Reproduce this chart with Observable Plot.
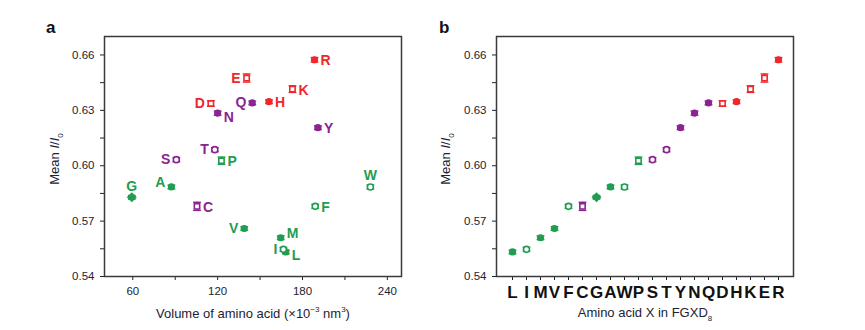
<!DOCTYPE html>
<html>
<head>
<meta charset="utf-8">
<script src="https://cdn.jsdelivr.net/npm/d3@7"></script>
<script src="https://cdn.jsdelivr.net/npm/@observablehq/plot@0.6"></script>
<style>
  html, body { margin: 0; padding: 0; background: #fff; }
  #wrap { position: relative; width: 865px; height: 330px; font-family: "Liberation Sans", Arial, sans-serif; color: #1b2333; }
  .panel { position: absolute; top: 0; }
  .plab { position: absolute; font-weight: bold; font-size: 17px; color: #111; }
  .ylab { position: absolute; font-size: 13px; white-space: nowrap; transform: translate(-50%, -50%) rotate(-90deg); }
  .xlab { position: absolute; font-size: 13px; white-space: nowrap; transform: translate(-50%, -50%); }
  sup, sub { font-size: 8px; }
</style>
</head>
<body>
<div id="wrap">
  <div id="pa" class="panel" style="left:0"></div>
  <div id="pb" class="panel" style="left:430px"></div>
  <div class="plab" style="left:46px; top:18px">a</div>
  <div class="plab" style="left:439px; top:18px">b</div>
  <div class="ylab" style="left:56px; top:159px">Mean <i>I</i>/<i>I</i><sub>0</sub></div>
  <div class="ylab" style="left:447px; top:159px">Mean <i>I</i>/<i>I</i><sub>0</sub></div>
  <div class="xlab" style="left:253px; top:313px">Volume of amino acid (×10<sup>−3</sup> nm<sup>3</sup>)</div>
  <div class="xlab" style="left:645px; top:314px">Amino acid X in FGXD<sub>8</sub></div>
</div>
<script>
// ---- data ----
const letters = ["L","I","M","V","F","C","G","A","W","P","S","T","Y","N","Q","D","H","K","E","R"];
const meanI   = [0.5533,0.5547,0.5610,0.5660,0.5780,0.5780,0.5829,0.5885,0.5885,0.6027,0.6033,0.6087,0.6206,0.6285,0.6340,0.6337,0.6347,0.6415,0.6475,0.6574];
const errI    = [0.0010,0.0011,0.0010,0.0010,0.0011,0.0022,0.0010,0.0010,0.0011,0.0020,0.0011,0.0011,0.0010,0.0011,0.0010,0.0015,0.0010,0.0018,0.0022,0.0012];
const volume  = [168.2,166.5,164.6,138.8,189.0,105.4,59.3,87.3,228.0,122.7,90.8,118.0,190.9,120.0,144.5,115.2,156.3,172.9,140.5,188.5];
const group   = ["nonpolar","nonpolar","nonpolar","nonpolar","nonpolar","polar","nonpolar","nonpolar","nonpolar","nonpolar","polar","polar","polar","polar","polar","charged","charged","charged","charged","charged"];
const marker  = ["filled","open","filled","filled","open","box","diamond","filled","open","box","open","open","filled","filled","filled","box","filled","box","box","filled"];
const groups  = ["nonpolar","polar","charged"];
const groupColors = ["#1f9d50","#8b2391","#f0262b"];
const labelLeft = ["A","V","S","T","D","Q","E","I"];
const labelTop  = ["G","W"];
const labelUp   = ["A","M"];
const labelDown = ["N","L"];
const yTicks = [0.54,0.57,0.60,0.63,0.66];
const yMinor = [0.555,0.585,0.615,0.645];
const xTicksA = [60,120,180,240];
const xMinorA = [90,150,210];

const data = letters.map((l, i) => ({
  letter: l, y: meanI[i], lo: meanI[i] - errI[i], hi: meanI[i] + errI[i],
  vol: volume[i], group: group[i], marker: marker[i]
}));

const FONT = '"Liberation Sans", Arial, sans-serif';
const TXT = "#1b2333";
const cap = { draw(ctx, size) { const w = Math.sqrt(size) / 2; ctx.moveTo(-w, 0); ctx.lineTo(w, 0); } };

const yFmt = d => yTicks.some(t => Math.abs(t - d) < 1e-9) ? d.toFixed(2) : "";

function pointMarks(xf) {
  const filt = k => data.filter(d => d.marker === k);
  return [
    Plot.ruleX(data, {x: xf, y1: "lo", y2: "hi", stroke: "group", strokeWidth: 1.3}),
    Plot.dot(data, {x: xf, y: "lo", symbol: cap, r: 4.4, stroke: "group", strokeWidth: 1.4}),
    Plot.dot(data, {x: xf, y: "hi", symbol: cap, r: 4.4, stroke: "group", strokeWidth: 1.4}),
    Plot.dot(filt("filled"), {x: xf, y: "y", r: 3.6, fill: "group"}),
    Plot.dot(filt("diamond"), {x: xf, y: "y", r: 4.5, symbol: "diamond2", fill: "group"}),
    Plot.dot(filt("open"), {x: xf, y: "y", r: 3.0, fill: "white", stroke: "group", strokeWidth: 1.6}),
    Plot.dot(filt("box"), {x: xf, y: "y", r: 3.0, symbol: "square", fill: "white", stroke: "group", strokeWidth: 1.6})
  ];
}

const common = {
  height: 330, marginTop: 36, marginBottom: 54,
  y: {domain: [0.54, 0.67], label: null},
  color: {domain: groups, range: groupColors},
  style: {fontFamily: FONT, color: TXT, background: "transparent", overflow: "visible"}
};

const nudge = d => labelUp.includes(d.letter) ? -1 : labelDown.includes(d.letter) ? 1 : 0;
const labelMarks = (subset, opts) => [
  Plot.text(subset.filter(d => nudge(d) === 0), {x: "vol", y: "y", text: "letter", fill: "group", fontSize: 14, fontWeight: "bold", ...opts, dy: (opts.dy ?? 1)}),
  Plot.text(subset.filter(d => nudge(d) < 0), {x: "vol", y: "y", text: "letter", fill: "group", fontSize: 14, fontWeight: "bold", ...opts, dy: -4}),
  Plot.text(subset.filter(d => nudge(d) > 0), {x: "vol", y: "y", text: "letter", fill: "group", fontSize: 14, fontWeight: "bold", ...opts, dy: 4})
];

const pa = Plot.plot({
  ...common,
  width: 430, marginLeft: 104, marginRight: 29,
  x: {domain: [40, 250], label: null},
  marks: [
    Plot.axisY({ticks: yTicks.concat(yMinor), tickFormat: yFmt, tickSize: 4, tickPadding: 6, fontSize: 11.5, label: null}),
    Plot.axisX({ticks: xTicksA.concat(xMinorA), tickFormat: d => xTicksA.includes(d) ? String(d) : "", tickSize: 4, tickPadding: 6, fontSize: 11.5, label: null}),
    Plot.frame({stroke: "#3a3a3a", strokeWidth: 1.5}),
    ...pointMarks("vol"),
    ...labelMarks(data.filter(d => !labelLeft.includes(d.letter) && !labelTop.includes(d.letter)), {textAnchor: "start", dx: 6}),
    ...labelMarks(data.filter(d => labelLeft.includes(d.letter)), {textAnchor: "end", dx: -6, dy: 0}),
    Plot.text(data.filter(d => labelTop.includes(d.letter)),
      {x: "vol", y: "y", text: "letter", fill: "group", textAnchor: "middle", dy: -11, fontSize: 14, fontWeight: "bold"})
  ]
});
document.getElementById("pa").append(pa);

const pb = Plot.plot({
  ...common,
  width: 435, marginLeft: 66, marginRight: 72,
  x: {type: "point", domain: letters, padding: 1, label: null},
  marks: [
    Plot.axisY({ticks: yTicks.concat(yMinor), tickFormat: yFmt, tickSize: 4, tickPadding: 6, fontSize: 11.5, label: null}),
    Plot.axisX({tickSize: 4, tickPadding: 5, fontSize: 17, fontWeight: "bold", fill: "#111", label: null}),
    Plot.frame({stroke: "#3a3a3a", strokeWidth: 1.5}),
    ...pointMarks("letter")
  ]
});
document.getElementById("pb").append(pb);
</script>
</body>
</html>
